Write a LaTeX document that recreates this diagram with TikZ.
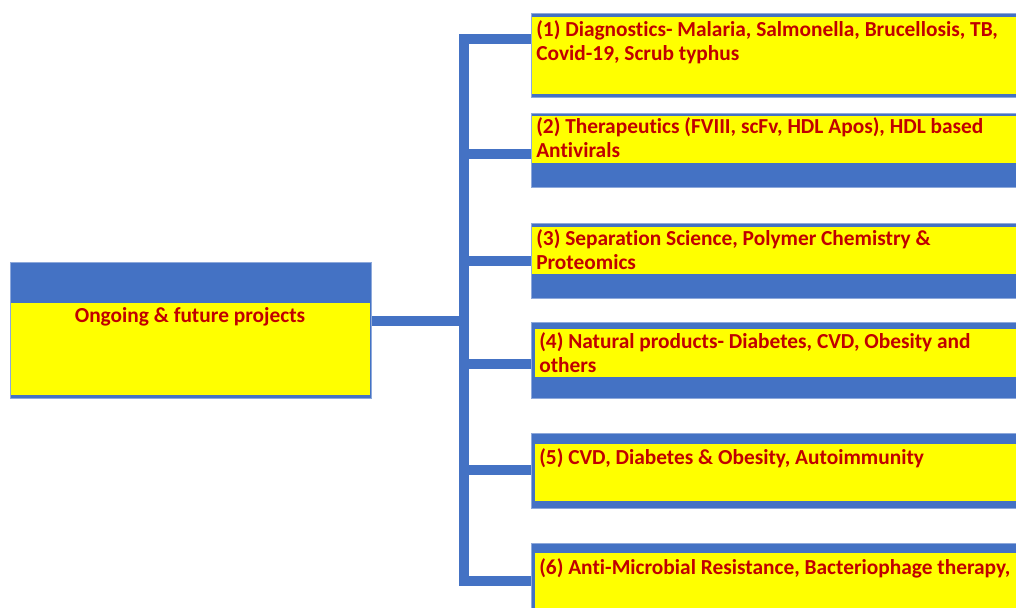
\documentclass[tikz,border=0pt]{standalone}
\usepackage{fontspec}
\setmainfont{Carlito}[Ligatures=NoCommon]
\usetikzlibrary{calc}
\definecolor{boxblue}{HTML}{4472C4}
\definecolor{edgeblue}{HTML}{8EA9DB}
\definecolor{padyellow}{HTML}{FFFF00}
\definecolor{labelred}{HTML}{C00000}

\begin{document}
\begin{tikzpicture}[x=0.025cm,y=-0.025cm,
  band/.style={fill=boxblue,draw=edgeblue,line width=0.4pt},
  pad/.style={fill=padyellow},
  link/.style={draw=boxblue,line width=7pt,line join=miter},
  lbl/.style={anchor=base west,inner sep=0pt,align=left,text=labelred,
    font=\fontsize{15.2}{16.4}\selectfont\bfseries}]
  \useasboundingbox (0,0) rectangle (1016,607);
  \clip (0,0) rectangle (1016,607);
  % attach points
  \coordinate (main) at (371,321);
  \coordinate (hub) at (464,321);
  \coordinate (p1) at (531,39);
  \coordinate (p2) at (531,154);
  \coordinate (p3) at (531,261);
  \coordinate (p4) at (531,364);
  \coordinate (p5) at (531,470);
  \coordinate (p6) at (531,581);
  \coordinate (tt) at (p1 -| hub);
  \coordinate (tb) at (p6 -| hub);
  % connectors
  \draw[link] (p1) -- (tt) -- (tb) -- (p6);
  \draw[link] (main) -- (hub);
  \draw[link] (p2) -- (p2 -| hub);
  \draw[link] (p3) -- (p3 -| hub);
  \draw[link] (p4) -- (p4 -| hub);
  \draw[link] (p5) -- (p5 -| hub);
  % left box
  \draw[band] (10,262) rectangle (371,398);
  \fill[pad] (11,303) rectangle (370,395);
  \node[lbl,anchor=base] (title) at (190,322) {Ongoing \& future projects};
  % right boxes (base = last line)
  \draw[band] (531,13) rectangle (1030,97);
  \fill[pad] (532,17) rectangle (1030,94);
  \draw[band] (531,113) rectangle (1030,187);
  \fill[pad] (532,116) rectangle (1030,163);
  \draw[band] (531,223) rectangle (1030,298);
  \fill[pad] (532,227) rectangle (1030,274);
  \draw[band] (531,322) rectangle (1030,398);
  \fill[pad] (535,329) rectangle (1030,377);
  \draw[band] (531,433) rectangle (1030,508);
  \fill[pad] (535,444) rectangle (1030,501);
  \draw[band] (531,543) rectangle (1030,620);
  \fill[pad] (535,553) rectangle (1030,620);
  \node[lbl] (t1) at (536,60) {(1) Diagnostics- Malaria, Salmonella, Brucellosis, TB,\\Covid-19, Scrub typhus};
  \node[lbl] (t2) at (536,157) {(2) Therapeutics (FVIII, scFv, HDL Apos), HDL based\\Antivirals};
  \node[lbl] (t3) at (536,269) {(3) Separation Science, Polymer Chemistry \&\\Proteomics};
  \node[lbl] (t4) at (539,372) {(4) Natural products- Diabetes, CVD, Obesity and\\others};
  \node[lbl] (t5) at (539,464) {(5) CVD, Diabetes \& Obesity, Autoimmunity};
  \node[lbl] (t6) at (539,574) {(6) Anti-Microbial Resistance, Bacteriophage therapy,};
\end{tikzpicture}
\end{document}
